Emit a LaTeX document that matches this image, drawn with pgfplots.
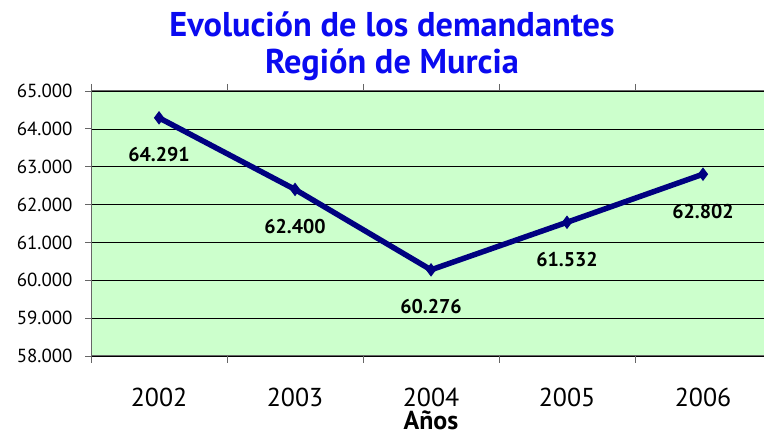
\documentclass[border=0pt]{standalone}
\usepackage{pgfplots}
\pgfplotsset{compat=1.18}
\usepackage{fontspec}
\setmainfont{PT Sans}
\definecolor{bggreen}{RGB}{204,255,204}
\definecolor{navy}{RGB}{0,0,128}
\definecolor{titleblue}{RGB}{10,10,240}
\begin{document}
\begin{tikzpicture}[x=1bp,y=1bp]
\useasboundingbox (0,0) rectangle (764,439);
\node[font=\fontsize{34.5}{37}\selectfont\bfseries, text=titleblue] at (392,415) {Evolución de los demandantes};
\node[font=\fontsize{34.5}{37}\selectfont\bfseries, text=titleblue] at (392,374) {Región de Murcia};
\begin{axis}[
  at={(91bp,83bp)}, anchor=south west,
  scale only axis, width=680bp, height=265bp,
  xmin=-0.5, xmax=4.5, ymin=58000, ymax=65000,
  scaled y ticks=false,
  axis background/.style={fill=bggreen},
  axis line style={draw=gray!80!black, line width=1pt},
  xtick={0,1,2,3,4},
  xticklabels={2002,2003,2004,2005,2006},
  major x tick style={draw=none},
  minor xtick={-0.5,0.5,1.5,2.5,3.5,4.5},
  minor x tick style={draw=gray!80!black, line width=0.8pt},
  minor tick length=7bp,
  major tick length=6bp,
  tick align=outside,
  ytick={58000,59000,60000,61000,62000,63000,64000,65000},
  y tick style={draw=gray!80!black, line width=0.8pt},
  ymajorgrids, grid style={black, line width=0.6pt},
  yticklabel style={font=\fontsize{19}{20}\selectfont, xshift=-9bp,
    /pgf/number format/.cd, assume math mode=true, 1000 sep={.}, fixed, precision=0},
  xticklabel style={font=\fontsize{26}{28}\selectfont, anchor=center, inner sep=0pt, yshift=-35bp},
  xlabel={\fontsize{26}{28}\selectfont\bfseries Años},
  xlabel style={at={(axis description cs:0.5,0)}, anchor=base, inner sep=0pt, yshift=-74bp},
  clip=false,
]
\addplot[navy, line width=5.5bp, mark=diamond*, mark size=6bp, mark options={line width=1bp},
  nodes near coords,
  nodes near coords style={font=\fontsize{20}{22}\selectfont\bfseries, text=black, anchor=center, yshift=-37bp,
    /pgf/number format/.cd, assume math mode=true, 1000 sep={.}, fixed, precision=0}]
  coordinates {(0,64291) (1,62400) (2,60276) (3,61532) (4,62802)};
\end{axis}
\end{tikzpicture}
\end{document}
